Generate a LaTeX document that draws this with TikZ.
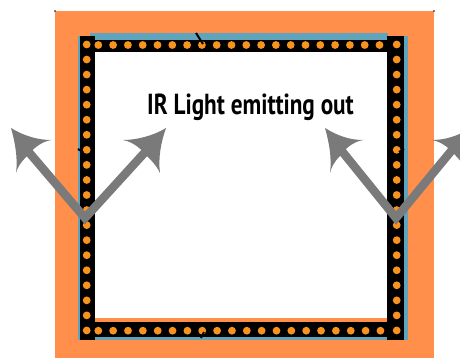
\documentclass[tikz,border=0pt]{standalone}
\usepackage{fontspec}
\setmainfont{PT Sans}
\definecolor{panelorange}{HTML}{FF8F4B}
\definecolor{stripblue}{HTML}{5FA4BC}
\definecolor{dotorange}{HTML}{F7931E}
\definecolor{arrowgray}{HTML}{7A7A7A}
\tikzset{
  stripe/.style={fill=black,draw=none},
  bluestrip/.style={fill=stripblue,draw=none},
  led/.style={circle,fill=dotorange,draw=none,minimum size=7.8pt,inner sep=0pt},
  shaft/.style={draw=arrowgray,line width=8.5pt,line cap=butt},
  head/.style={fill=arrowgray,draw=none},
  nick/.style={black,line width=2pt}
}
\begin{document}
\begin{tikzpicture}[x=1pt,y=-1pt]
\useasboundingbox (0,0) rectangle (460,358);
\clip (0,0) rectangle (460,358);
\fill[panelorange] (55,11) rectangle (434,358);
\fill[white] (95,52) rectangle (387,318);
% blue backing
\fill[bluestrip] (90,33) rectangle (388,40);
\fill[bluestrip] (78,36) rectangle (80,340);
\fill[bluestrip] (404,36) rectangle (408,340);
\fill[bluestrip] (95,337) rectangle (387,340);
% black strips
\fill[stripe] (95,40) rectangle (387,52);
\fill[stripe] (95,322) rectangle (387,337);
\fill[stripe] (80,36) rectangle (95,340);
\fill[stripe] (387,36) rectangle (404,340);
% leds
\foreach \i in {0,...,19}{
  \node[led] (lt\i) at ({98.3+14.8*\i},45) {};
  \node[led] (lb\i) at ({98.3+14.85*\i},330.7) {};
  \node[led] (ll\i) at (86.7,{44.5+15.05*\i}) {};
  \node[led] (lr\i) at (396.7,{44.5+15.05*\i}) {};
}
% small marks
\draw[nick] (196,33) -- (203,44);
\draw[nick] (201,338) -- (204,332);
\draw[nick] (78,149) -- (83,152);
\draw[nick] (404,149) -- (399,152);
\fill[black] (55,11) circle (0.8);
\fill[black] (434,11) circle (0.8);
% arrows
\coordinate (va) at (85,218);
\coordinate (vb) at (396,218);
\coordinate (a1) at (27,150);
\coordinate (a2) at (147,150);
\coordinate (b1) at (341,150);
\coordinate (b2) at (452,150);
\draw[shaft] (a1) -- (va) -- (a2);
\draw[shaft] (b1) -- (vb) -- (b2);
\fill[head] (11,128) .. controls (24,136) and (38,140) .. (51,140) .. controls (40,142) and (32,150) .. (27,156) .. controls (21,162) and (17,168) .. (16,173) .. controls (18,158) and (15,142) .. (11,128) -- cycle;
\fill[head] (166,128) .. controls (153,136) and (136,140) .. (123,140) .. controls (134,142) and (142,150) .. (147,156) .. controls (153,162) and (158,168) .. (160,173) .. controls (158,158) and (161,142) .. (166,128) -- cycle;
\fill[head] (325,128) .. controls (338,136) and (350,140) .. (363,140) .. controls (352,142) and (344,150) .. (340,156) .. controls (334,162) and (331,168) .. (330,173) .. controls (332,158) and (329,142) .. (325,128) -- cycle;
\fill[head] (471,128) .. controls (458,136) and (445,140) .. (432,140) .. controls (443,142) and (451,150) .. (456,156) .. controls (462,162) and (465,168) .. (466,173) .. controls (464,158) and (467,142) .. (471,128) -- cycle;
% label
\node[font=\bfseries\fontsize{29}{29}\selectfont,inner sep=0pt,anchor=base,xscale=0.8] (label) at (250.5,115) {IR Light emitting out};
\end{tikzpicture}
\end{document}
